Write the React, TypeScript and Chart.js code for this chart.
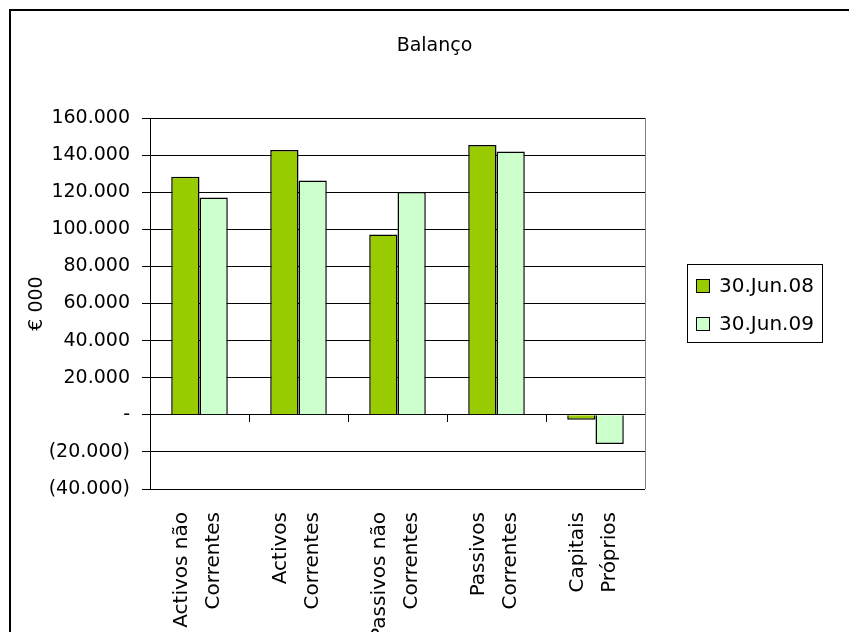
import React, { useEffect, useRef } from 'react';
import { Chart, registerables } from 'chart.js';

Chart.register(...registerables);

const chartTitle = 'Balanço';
const yAxisTitle = '€ 000';
const categories: string[][] = [
  ['Activos não', 'Correntes'],
  ['Activos', 'Correntes'],
  ['Passivos não', 'Correntes'],
  ['Passivos', 'Correntes'],
  ['Capitais', 'Próprios'],
];
const seriesNames = ['30.Jun.08', '30.Jun.09'];
const values2008 = [128300, 142700, 97200, 145500, -2700];
const values2009 = [117100, 126300, 120100, 142000, -15800];
const seriesColors = ['#99CC00', '#CCFFCC'];
const yMin = -40000;
const yMax = 160000;
const yStep = 20000;

const FONT = 'DejaVu Sans';

function fmtThousands(v: number): string {
  return Math.round(v).toString().replace(/\B(?=(\d{3})+(?!\d))/g, '.');
}
function fmtTick(v: number): string {
  if (v === 0) return '-';
  if (v < 0) return '(' + fmtThousands(-v) + ')';
  return fmtThousands(v);
}

const decorPlugin = {
  id: 'decor',
  beforeDraw(chart: any) {
    const { ctx, width, height } = chart;
    ctx.save();
    ctx.fillStyle = '#fff';
    ctx.fillRect(0, 0, width, height);
    // outer chart frame (top and left edges visible)
    ctx.strokeStyle = '#000';
    ctx.lineWidth = 2;
    ctx.beginPath();
    ctx.moveTo(10, height + 5);
    ctx.lineTo(10, 10);
    ctx.lineTo(width + 5, 10);
    ctx.stroke();
    ctx.restore();
  },
  afterDraw(chart: any) {
    const { ctx, chartArea } = chart;
    ctx.save();
    // plot area right border (gray)
    ctx.strokeStyle = '#808080';
    ctx.lineWidth = 1;
    ctx.beginPath();
    ctx.moveTo(Math.round(chartArea.right) + 0.5, chartArea.top);
    ctx.lineTo(Math.round(chartArea.right) + 0.5, chartArea.bottom);
    ctx.stroke();

    // title
    ctx.fillStyle = '#000';
    ctx.font = `19px "${FONT}"`;
    ctx.textAlign = 'center';
    ctx.textBaseline = 'alphabetic';
    ctx.fillText(chartTitle, 434.5, 51);

    // legend
    const bx = 687, by = 264, bw = 135, bh = 78;
    ctx.strokeStyle = '#000';
    ctx.lineWidth = 1;
    ctx.strokeRect(bx + 0.5, by + 0.5, bw, bh);
    const ds = chart.data.datasets;
    ctx.textAlign = 'left';
    ctx.textBaseline = 'middle';
    ctx.font = `20px "${FONT}"`;
    ds.forEach((d: any, i: number) => {
      const cy = 286 + i * 38;
      ctx.fillStyle = d.backgroundColor;
      ctx.fillRect(696.5, cy - 6.5, 13, 13);
      ctx.strokeStyle = '#000';
      ctx.strokeRect(696.5, cy - 6.5, 13, 13);
      ctx.fillStyle = '#000';
      ctx.fillText(d.label, 719, cy + 1);
    });
    ctx.restore();
  },
};

export default function App() {
  const canvasRef = useRef<HTMLCanvasElement | null>(null);

  useEffect(() => {
    document.documentElement.style.overflow = 'hidden';
    const canvas = canvasRef.current;
    if (!canvas) return;
    const chart = new Chart(canvas, {
      type: 'bar',
      data: {
        labels: categories,
        datasets: [
          {
            label: seriesNames[0],
            data: values2008,
            backgroundColor: seriesColors[0],
            borderColor: '#000',
            borderWidth: 1.5,
            barPercentage: 1,
            categoryPercentage: 0.5714,
          },
          {
            label: seriesNames[1],
            data: values2009,
            backgroundColor: seriesColors[1],
            borderColor: '#000',
            borderWidth: 1.5,
            barPercentage: 1,
            categoryPercentage: 0.5714,
          },
        ],
      },
      options: {
        animation: false,
        responsive: false,
        devicePixelRatio: 1,
        layout: { padding: { top: 118, right: 204, bottom: 0, left: 0 } },
        plugins: {
          legend: { display: false },
          title: { display: false },
          tooltip: { enabled: false },
        },
        scales: {
          x: {
            type: 'category',
            position: 'bottom',
            offset: true,
            grid: { display: false, offset: true },
            border: { display: false },
            ticks: {
              autoSkip: false,
              minRotation: 90,
              maxRotation: 90,
              padding: 15,
              labelOffset: -18,
              color: '#000',
              font: { family: FONT, size: 20, lineHeight: 1.6 },
            },
            afterFit: (scale: any) => {
              scale.height = 143;
            },
          },
          x2: {
            type: 'category',
            position: { y: 0 } as any,
            offset: true,
            grid: {
              display: true,
              offset: true,
              drawOnChartArea: false,
              drawTicks: true,
              tickLength: 7,
              color: '#000',
            },
            border: { display: true, color: '#000', width: 1 },
            ticks: { display: false },
          },
          y: {
            type: 'linear',
            position: 'left',
            min: yMin,
            max: yMax,
            grid: { color: '#000', lineWidth: 1, tickLength: 8, drawTicks: true },
            border: { display: true, color: '#000', width: 1 },
            ticks: {
              stepSize: yStep,
              padding: 12,
              color: '#000',
              font: { family: FONT, size: 19 },
              callback: (v: any) => fmtTick(Number(v)),
            },
            title: {
              display: true,
              text: yAxisTitle,
              color: '#000',
              font: { family: FONT, size: 19 },
              padding: { top: 26, bottom: 0 },
            },
            afterFit: (scale: any) => {
              scale.width = 150;
            },
          },
        },
      } as any,
      plugins: [decorPlugin],
    });
    return () => chart.destroy();
  }, []);

  return (
    <canvas
      ref={canvasRef}
      width={849}
      height={632}
      style={{ display: 'block', position: 'absolute', left: 0, top: 0 }}
    />
  );
}
